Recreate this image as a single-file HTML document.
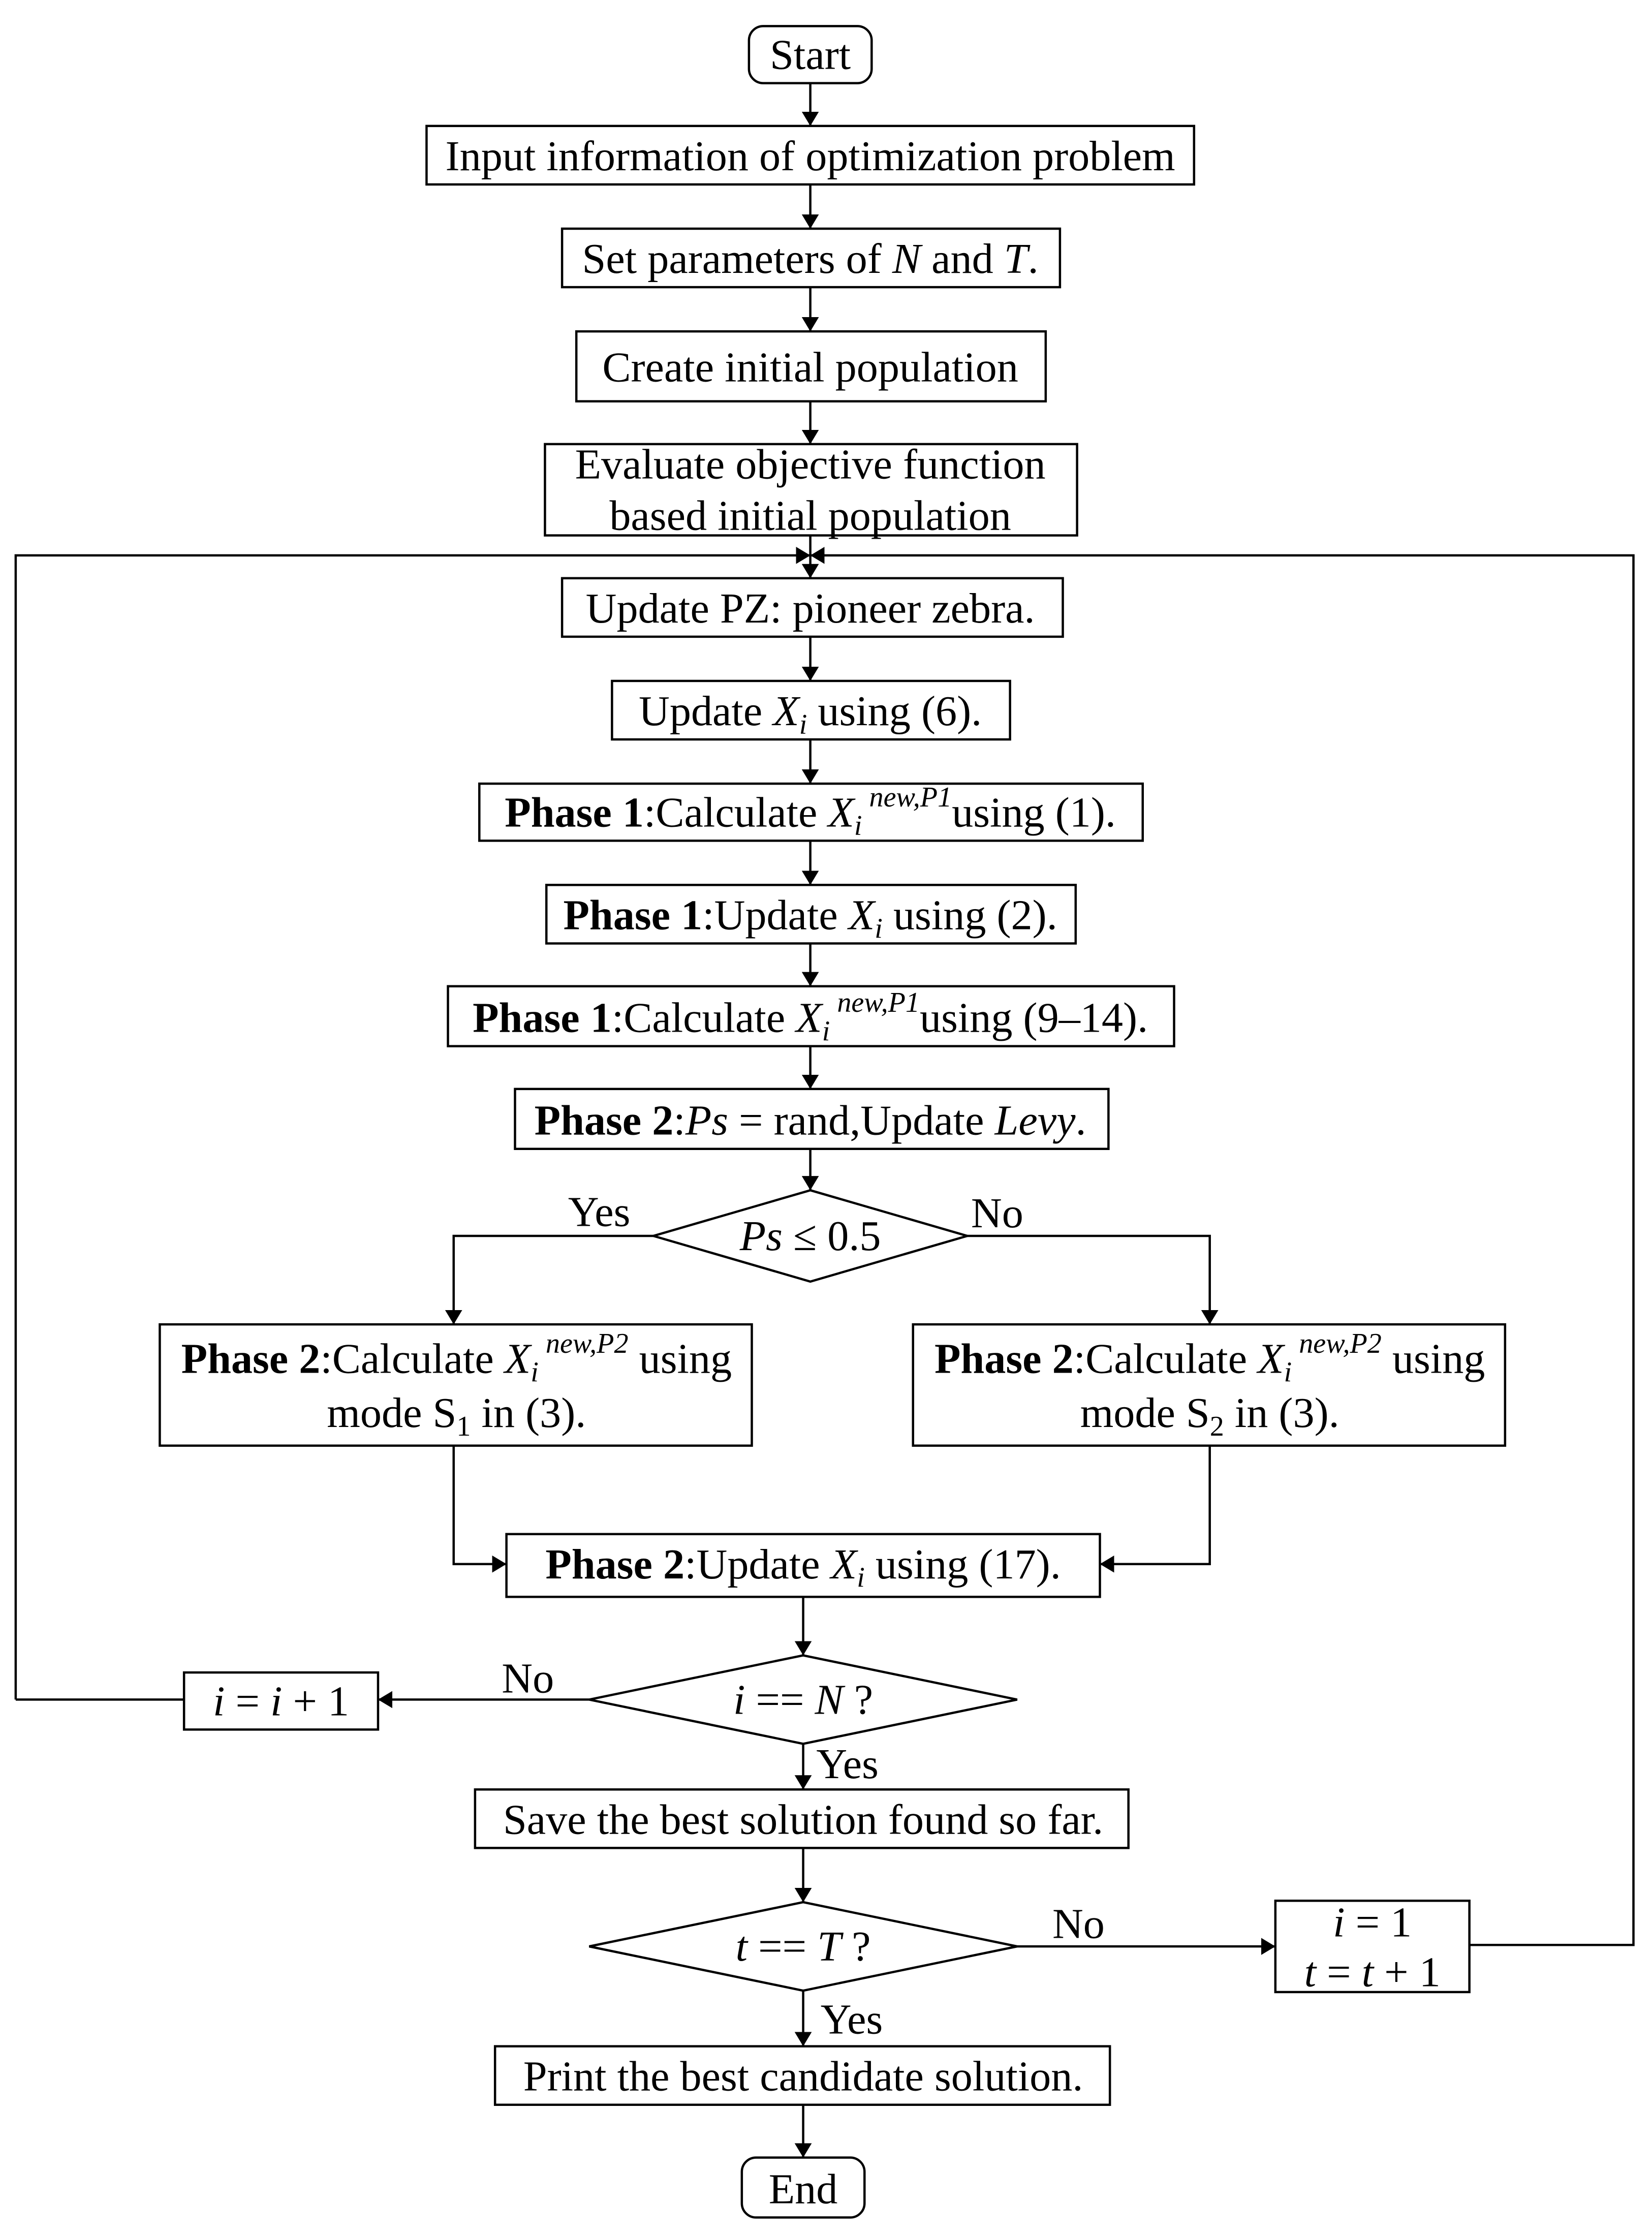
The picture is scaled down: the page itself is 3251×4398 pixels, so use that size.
<!DOCTYPE html>
<html><head><meta charset="utf-8"><style>
html,body{margin:0;padding:0;background:#fff}
svg{display:block}
text{font-family:"Liberation Serif",serif;font-size:30px;fill:#000}
.b{font-weight:bold}
.i{font-style:italic}
.s{font-size:20px;font-style:italic}
</style></head><body>
<svg width="3251" height="4398" viewBox="0 0 1158 1566" xmlns="http://www.w3.org/2000/svg">
<defs><marker id="a" markerWidth="10" markerHeight="12" refX="10" refY="6" orient="auto" markerUnits="userSpaceOnUse"><path d="M0,0 L10,6 L0,12 z" fill="#000"/></marker></defs>
<g fill="none" stroke="#000" stroke-width="1.6">
<rect x="525" y="18" width="86" height="40" rx="10"/>
<rect x="299" y="88" width="538" height="41"/>
<rect x="394" y="160" width="349" height="41"/>
<rect x="404" y="232" width="329" height="49"/>
<rect x="382" y="311" width="373" height="64"/>
<rect x="394" y="405" width="351" height="41"/>
<rect x="429" y="477" width="279" height="41"/>
<rect x="336" y="549" width="465" height="40"/>
<rect x="383" y="620" width="371" height="41"/>
<rect x="314" y="691" width="509" height="42"/>
<rect x="361" y="763" width="416" height="42"/>
<polygon points="568,834 678,866 568,898 458,866"/>
<rect x="112" y="928" width="415" height="85"/>
<rect x="640" y="928" width="415" height="85"/>
<rect x="355" y="1075" width="416" height="44"/>
<polygon points="563,1160 713,1191 563,1222 413,1191"/>
<rect x="129" y="1172" width="136" height="40"/>
<rect x="333" y="1254" width="458" height="41"/>
<polygon points="563,1333 713,1364 563,1395 413,1364"/>
<rect x="894" y="1332" width="136" height="64"/>
<rect x="347" y="1434" width="431" height="41"/>
<rect x="520" y="1512" width="86" height="42" rx="10"/>
<g marker-end="url(#a)">
<line x1="568" y1="58" x2="568" y2="88"/>
<line x1="568" y1="129" x2="568" y2="160"/>
<line x1="568" y1="201" x2="568" y2="232"/>
<line x1="568" y1="281" x2="568" y2="311"/>
<line x1="568" y1="375" x2="568" y2="405"/>
<polyline points="11,1191 11,389 568,389"/>
<polyline points="1030,1363 1145,1363 1145,389 568,389"/>
<line x1="568" y1="446" x2="568" y2="477"/>
<line x1="568" y1="518" x2="568" y2="549"/>
<line x1="568" y1="589" x2="568" y2="620"/>
<line x1="568" y1="661" x2="568" y2="691"/>
<line x1="568" y1="733" x2="568" y2="763"/>
<line x1="568" y1="805" x2="568" y2="834"/>
<polyline points="458,866 318,866 318,928"/>
<polyline points="678,866 848,866 848,928"/>
<polyline points="318,1013 318,1096 355,1096"/>
<polyline points="848,1013 848,1096 771,1096"/>
<line x1="563" y1="1119" x2="563" y2="1160"/>
<line x1="413" y1="1191" x2="265" y2="1191"/>
<line x1="563" y1="1222" x2="563" y2="1254"/>
<line x1="563" y1="1295" x2="563" y2="1333"/>
<line x1="713" y1="1364" x2="894" y2="1364"/>
<line x1="563" y1="1395" x2="563" y2="1434"/>
<line x1="563" y1="1475" x2="563" y2="1512"/>
</g>
<line x1="129" y1="1191" x2="11" y2="1191"/>
</g>
<g text-anchor="middle">
<text x="568" y="48">Start</text>
<text x="568" y="119">Input information of optimization problem</text>
<text x="568" y="191">Set parameters of <tspan class="i">N</tspan> and <tspan class="i">T</tspan>.</text>
<text x="568" y="267">Create initial population</text>
<text x="568" y="335">Evaluate objective function</text>
<text x="568" y="371">based initial population</text>
<text x="568" y="436">Update PZ: pioneer zebra.</text>
<text x="568" y="508">Update <tspan class="i">X</tspan><tspan class="s" dy="6">i</tspan><tspan dy="-6"> using (6).</tspan></text>
<text x="568" y="579"><tspan class="b">Phase 1</tspan>:Calculate <tspan class="i">X</tspan><tspan class="s" dy="6">i</tspan><tspan class="s" dy="-20"> new,P1</tspan><tspan dy="14">using (1).</tspan></text>
<text x="568" y="651"><tspan class="b">Phase 1</tspan>:Update <tspan class="i">X</tspan><tspan class="s" dy="6">i</tspan><tspan dy="-6"> using (2).</tspan></text>
<text x="568" y="723"><tspan class="b">Phase 1</tspan>:Calculate <tspan class="i">X</tspan><tspan class="s" dy="6">i</tspan><tspan class="s" dy="-20"> new,P1</tspan><tspan dy="14">using (9–14).</tspan></text>
<text x="568" y="795"><tspan class="b">Phase 2</tspan>:<tspan class="i">Ps</tspan> = rand,Update <tspan class="i">Levy</tspan>.</text>
<text x="568" y="876"><tspan class="i">Ps</tspan> ≤ 0.5</text>
<text x="420" y="859">Yes</text>
<text x="699" y="860">No</text>
<text x="320" y="962"><tspan class="b">Phase 2</tspan>:Calculate <tspan class="i">X</tspan><tspan class="s" dy="6">i</tspan><tspan class="s" dy="-20"> new,P2</tspan><tspan dy="14"> using</tspan></text>
<text x="320" y="1000">mode S<tspan font-size="20" dy="6">1</tspan><tspan dy="-6"> in (3).</tspan></text>
<text x="848" y="962"><tspan class="b">Phase 2</tspan>:Calculate <tspan class="i">X</tspan><tspan class="s" dy="6">i</tspan><tspan class="s" dy="-20"> new,P2</tspan><tspan dy="14"> using</tspan></text>
<text x="848" y="1000">mode S<tspan font-size="20" dy="6">2</tspan><tspan dy="-6"> in (3).</tspan></text>
<text x="563" y="1106"><tspan class="b">Phase 2</tspan>:Update <tspan class="i">X</tspan><tspan class="s" dy="6">i</tspan><tspan dy="-6"> using (17).</tspan></text>
<text x="563" y="1201"><tspan class="i">i</tspan> == <tspan class="i">N</tspan> ?</text>
<text x="370" y="1186">No</text>
<text x="197" y="1202"><tspan class="i">i</tspan> = <tspan class="i">i</tspan> + 1</text>
<text x="594" y="1246">Yes</text>
<text x="563" y="1285">Save the best solution found so far.</text>
<text x="563" y="1374"><tspan class="i">t</tspan> == <tspan class="i">T</tspan> ?</text>
<text x="756" y="1358">No</text>
<text x="962" y="1357"><tspan class="i">i</tspan> = 1</text>
<text x="962" y="1392"><tspan class="i">t</tspan> = <tspan class="i">t</tspan> + 1</text>
<text x="597" y="1425">Yes</text>
<text x="563" y="1465">Print the best candidate solution.</text>
<text x="563" y="1544">End</text>
</g>
</svg>
</body></html>
